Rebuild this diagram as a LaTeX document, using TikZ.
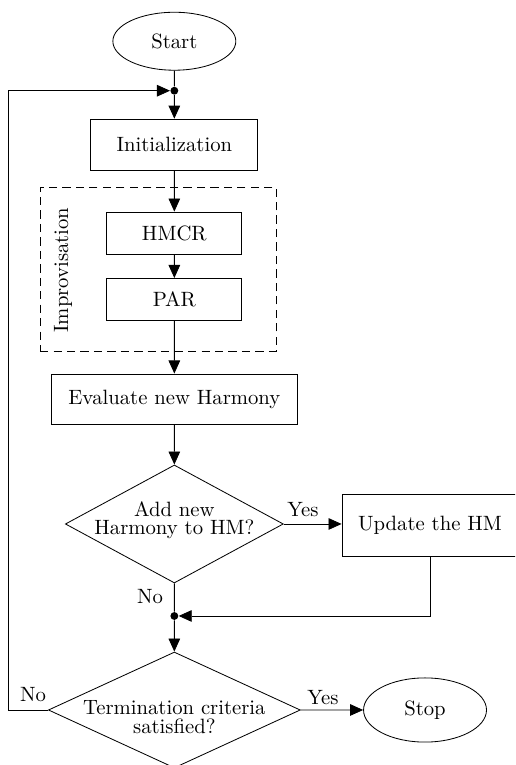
\documentclass[tikz,border=0pt]{standalone}
\usepackage {amsmath}
\usepackage {amssymb}
\usetikzlibrary{shapes.geometric,arrows.meta}

\newcommand{\dlines}[4]{\makebox[0pt]{\raisebox{#1}[0pt][0pt]{\begin{tabular}{@{}c@{}}#3\\[#2]#4\end{tabular}}}}

\begin{document}
\begin{tikzpicture}[scale=0.2,
  terminal/.style={draw,ellipse,minimum width=59.4pt},
  process/.style={draw,rectangle},
  decision/.style={draw,diamond},
  junction/.style={circle,fill,minimum size=3.8pt},
  flow/.style={-{Triangle[length=6.3pt,width=5.6pt]}}]
\tikzstyle{every node}+=[inner sep=0pt]
\clip (0,0) rectangle (43.72,-64.94);
\node [terminal,minimum height=28pt] (start) at (14.8,-3.5) {Start};
\node [junction] (j1) at (14.8,-7.7) {};
\node [process,minimum width=80.7pt,minimum height=24.6pt] (init) at (14.8,-12.27) {Initialization};
\node [draw,dash pattern=on 4pt off 2.5pt,minimum width=114pt,minimum height=79.2pt] (impro) at (13.42,-22.84) {};
\node [rotate=90] (improlabel) at (5.35,-22.92) {Improvisation};
\node [process,minimum width=65.2pt,minimum height=20.3pt] (hmcr) at (14.8,-19.78) {HMCR};
\node [process,minimum width=65.2pt,minimum height=20.3pt] (par) at (14.8,-25.42) {PAR};
\node [process,minimum width=118.8pt,minimum height=24.2pt] (eval) at (14.8,-33.87) {Evaluate new Harmony};
\node [decision,minimum width=105.3pt,minimum height=57pt] (add) at (14.8,-44.48) {\dlines{-0.8pt}{-3.5pt}{Add new}{Harmony to HM?}};
\node [process,minimum width=85pt,minimum height=30pt] (upd) at (36.5,-44.6) {Update the HM};
\node [junction] (j2) at (14.8,-52.29) {};
\node [decision,minimum width=121.7pt,minimum height=56pt] (term) at (14.8,-60.27) {\dlines{-6.7pt}{-2.7pt}{Termination criteria}{satisfied?}};
\node [terminal,minimum height=31pt] (stop) at (36.08,-60.27) {Stop};
\coordinate (loop) at (0.68,-60.27);
% branch labels
\node (yes1) at (25.72,-43.29) {Yes};
\node (no1) at (12.73,-50.68) {No};
\node (no2) at (2.80,-59.0) {No};
\node (yes2) at (27.42,-59.25) {Yes};
% connectors
\draw (start) -- (j1);
\draw [flow] (j1) -- (init);
\draw [flow] (init) -- (hmcr);
\draw [flow] (hmcr) -- (par);
\draw [flow] (par) -- (eval);
\draw [flow] (eval) -- (add);
\draw [flow] (add.east) -- (add.east -| upd.west);
\draw (add.south) -- (j2);
\draw [flow] (upd.south) |- (j2);
\draw [flow] (j2) -- (term);
\draw [flow] (term.east) -- (stop);
\draw [flow] (term.west) -- (loop) |- (j1);
\end{tikzpicture}
\end{document}
